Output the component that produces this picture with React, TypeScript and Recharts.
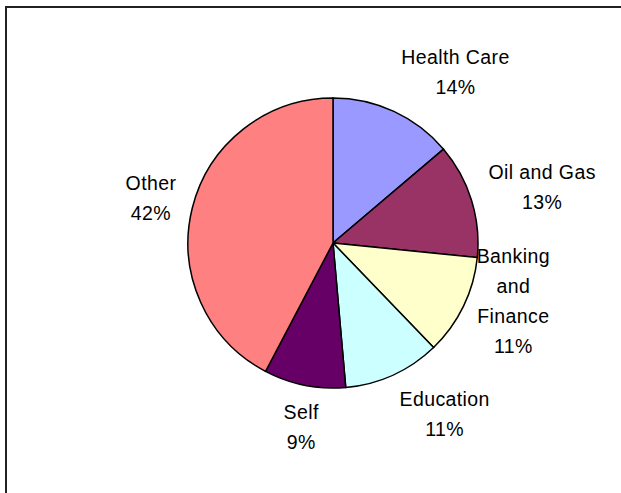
import React from 'react';
import { PieChart, Pie, Cell } from 'recharts';

const categories = ['Health Care', 'Oil and Gas', 'Banking and Finance', 'Education', 'Self', 'Other'];
const shares = [13.8, 12.8, 11.2, 10.8, 9.1, 42.3];
const colors = ['#9999FF', '#993366', '#FFFFCC', '#CCFFFF', '#660066', '#FF8080'];

const data = categories.map((name, i) => ({ name, value: shares[i] }));

const RADIAN = Math.PI / 180;
const FONT_SIZE = 19.5;
const LINE_H = 30;
const CHAR_W = 9.9;

const clamp = (v: number, lo: number, hi: number) => Math.max(lo, Math.min(hi, v));

const renderLabel = (props: any) => {
  const { cx, cy, midAngle, outerRadius, percent, name } = props;
  const nameLines: string[] = name.length > 12 ? name.split(' ') : [name];
  const lines = [...nameLines, `${Math.round(percent * 100)}%`];
  const maxLen = Math.max(...lines.map((l) => l.length));
  const hw = (maxLen * CHAR_W) / 2;
  const cos = Math.cos(midAngle * RADIAN);
  const sin = Math.sin(midAngle * RADIAN);
  const r = outerRadius + 17;
  const ax = cx + r * cos;
  const ay = cy - r * sin;
  const fx = Math.sign(cos) * clamp((Math.abs(cos) - 0.2) * 5, 0, 1);
  const n = lines.length;
  const xc = ax + hw * fx;
  const yc = ay - sin * 26 - (n - 2) * LINE_H * 0.4;
  return (
    <text
      x={xc}
      y={yc}
      textAnchor="middle"
      fill="#000"
      style={{ fontFamily: 'Liberation Sans, Arial, sans-serif', fontSize: FONT_SIZE, letterSpacing: 0.4 }}
    >
      {lines.map((l, i) => (
        <tspan key={i} x={xc} y={yc + (i - (n - 1) / 2) * LINE_H + 0.36 * FONT_SIZE}>
          {l}
        </tspan>
      ))}
    </text>
  );
};

export default function App() {
  return (
    <div
      style={{
        position: 'absolute',
        left: 0,
        top: 0,
        width: 621,
        height: 493,
        overflow: 'hidden',
        background: '#fff',
      }}
    >
      <div
        style={{
          position: 'absolute',
          left: 5,
          top: 6,
          width: 680,
          height: 560,
          border: '2px solid #222',
        }}
      />
      <div style={{ position: 'absolute', left: 0, top: 0 }}>
        <PieChart width={621} height={493} margin={{ top: 0, right: 0, bottom: 0, left: 0 }}>
          <Pie
            data={data}
            dataKey="value"
            nameKey="name"
            cx={333}
            cy={243}
            outerRadius={145}
            startAngle={90}
            endAngle={-270}
            stroke="#000"
            strokeWidth={1.5}
            label={renderLabel}
            labelLine={false}
            isAnimationActive={false}
          >
            {data.map((d, i) => (
              <Cell key={d.name} fill={colors[i]} />
            ))}
          </Pie>
        </PieChart>
      </div>
    </div>
  );
}
